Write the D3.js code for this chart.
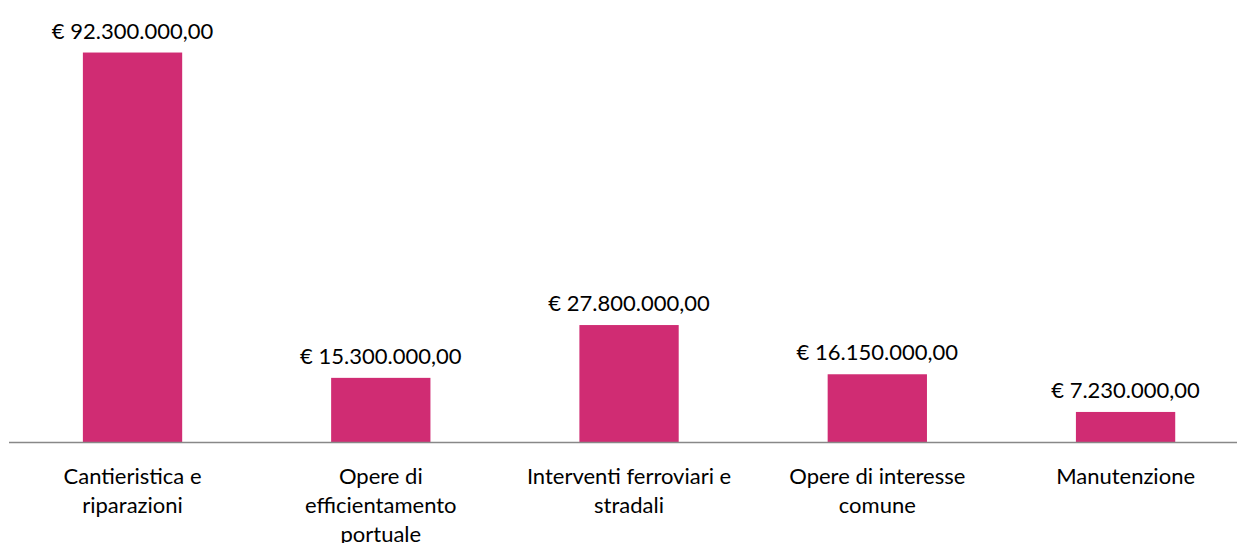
<!DOCTYPE html>
<html lang="it">
<meta charset="utf-8" />
<style>
  body { margin: 0; background: #fff; }
  text { font-family: Lato, "Open Sans", sans-serif; fill: #000; }
</style>
<svg width="1237" height="543"></svg>
<script src="https://d3js.org/d3.v7.min.js"></script>
<script>
// dati
var categorie = [
  "Cantieristica e\nriparazioni",
  "Opere di\nefficientamento\nportuale",
  "Interventi ferroviari e\nstradali",
  "Opere di interesse\ncomune",
  "Manutenzione"
];
var importi = [92300000, 15300000, 27800000, 16150000, 7230000];

var svg = d3.select("svg"),
    width = +svg.attr("width"),
    height = +svg.attr("height");

var x = d3.scaleBand()
    .domain(categorie)
    .range([8.4, 1249.7])
    .paddingInner(0.6)
    .paddingOuter(0.3);

var y = d3.scaleLinear()
    .domain([0, 100000000])
    .range([442.5, 20]);

var euro = d3.formatLocale({
  decimal: ",", thousands: ".", grouping: [3], currency: ["€ ", ""]
}).format("$,.2f");

// barre
svg.selectAll(".bar")
    .data(importi)
  .enter().append("rect")
    .attr("class", "bar")
    .attr("x", function(d, i) { return x(categorie[i]); })
    .attr("y", function(d) { return y(d); })
    .attr("width", x.bandwidth())
    .attr("height", function(d) { return y(0) - y(d); })
    .attr("fill", "#d02c73");

// asse
svg.append("line")
    .attr("x1", 9).attr("x2", width)
    .attr("y1", y(0)).attr("y2", y(0))
    .attr("stroke", "#888").attr("stroke-width", 1.3);

// etichette valori
svg.selectAll(".val")
    .data(importi)
  .enter().append("text")
    .attr("class", "val")
    .attr("x", function(d, i) { return x(categorie[i]) + x.bandwidth() / 2; })
    .attr("y", function(d) { return y(d) - 14; })
    .attr("text-anchor", "middle")
    .attr("font-size", 22)
    .text(function(d) { return euro(d); });

// etichette categorie
var cat = svg.selectAll(".cat")
    .data(categorie)
  .enter().append("text")
    .attr("class", "cat")
    .attr("text-anchor", "middle")
    .attr("font-size", 22)
    .attr("transform", function(d) { return "translate(" + (x(d) + x.bandwidth() / 2) + ",483.5)"; });

cat.selectAll("tspan")
    .data(function(d) { return d.split("\n"); })
  .enter().append("tspan")
    .attr("x", 0)
    .attr("y", function(d, i) { return i * 29; })
    .text(function(d) { return d; });
</script>
</html>
